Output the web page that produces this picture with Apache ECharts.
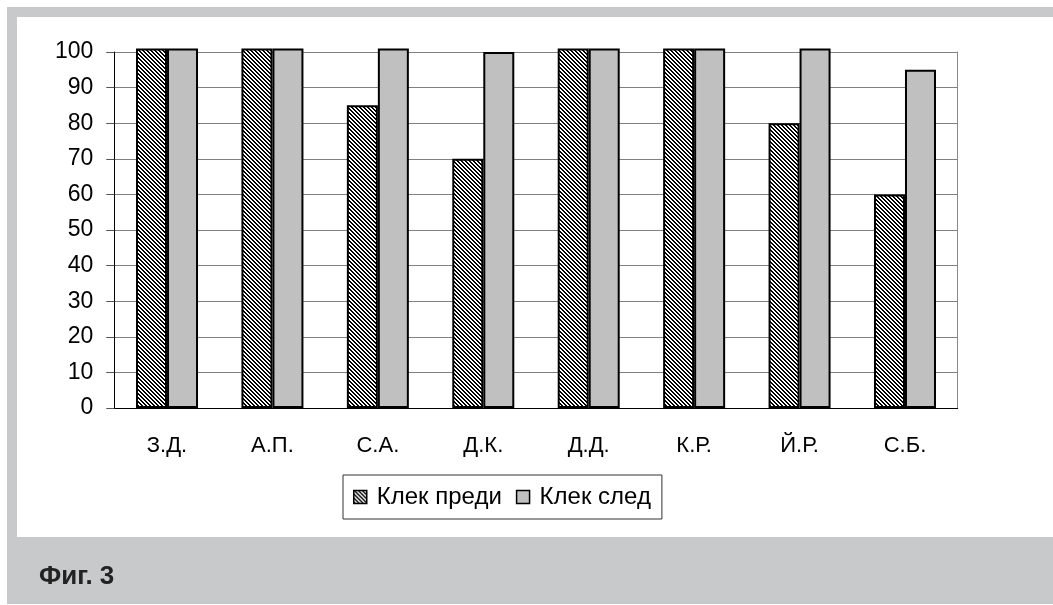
<!DOCTYPE html>
<html>
<head>
<meta charset="utf-8">
<script src="https://cdn.jsdelivr.net/npm/echarts@6/dist/echarts.min.js"></script>
<style>
  html, body { margin: 0; padding: 0; background: #fff; }
  #wrap { position: relative; width: 1053px; height: 605px; overflow: hidden; }
  #frame { position: absolute; left: 7px; top: 7px; right: 0; bottom: 1px; background: #c8c9cb; }
  #paper { position: absolute; left: 17px; top: 17px; right: 0; height: 520px; background: #fff; }
  #chart { position: absolute; left: 0; top: 0; width: 1053px; height: 605px; }
</style>
</head>
<body>
<div id="wrap">
  <div id="frame"></div>
  <div id="paper"></div>
  <div id="chart"></div>
</div>
<script>
// категории и стойности
var categories = ['З.Д.', 'А.П.', 'С.А.', 'Д.К.', 'Д.Д.', 'К.Р.', 'Й.Р.', 'С.Б.'];
var seriesNames = ['Клек преди', 'Клек след'];
// стойности над 100 са отрязани в оригинала, видимата част е ~101
var before = [101, 101, 85, 70, 101, 101, 80, 60];
var after = [101, 101, 101, 100, 101, 101, 101, 95];
var yMin = 0, yMax = 100, yStep = 10, yClip = 101;

function hatch() {
  var c = document.createElement('canvas');
  c.width = 4; c.height = 4;
  var ctx = c.getContext('2d');
  ctx.fillStyle = '#fff';
  ctx.fillRect(0, 0, 4, 4);
  ctx.fillStyle = '#000';
  for (var i = 0; i < 4; i++) {
    ctx.fillRect(i, i, 1, 1);
    ctx.fillRect((i + 1) % 4, i, 1, 1);
  }
  return c;
}

var font = '"Liberation Sans", Arial, sans-serif';
var gridBox = { left: 114.3, right: 95.3, bottom: 197 };

var myChart = echarts.init(document.getElementById('chart'));
var option = {
  animation: false,
  title: {
    text: 'Фиг. 3',
    left: 34, top: 559,
    textStyle: { fontFamily: font, fontSize: 26, fontWeight: 'bold', color: '#222' }
  },
  legend: {
    data: seriesNames,
    left: 343, top: 475,
    padding: [10, 11, 10, 10],
    itemGap: 14,
    itemWidth: 13, itemHeight: 13,
    borderColor: '#333', borderWidth: 1,
    icon: 'rect',
    itemStyle: { borderWidth: 1.5 },
    textStyle: { fontFamily: font, fontSize: 24, color: '#000', padding: [0, 0, 0, 5] }
  },
  grid: [
    { left: gridBox.left, right: gridBox.right, top: 52, bottom: gridBox.bottom },
    { left: gridBox.left, right: gridBox.right, top: 48.4, bottom: gridBox.bottom }
  ],
  xAxis: [
    {
      gridIndex: 0, type: 'category', data: categories,
      axisLine: { lineStyle: { color: '#000', width: 1 } },
      axisTick: { length: 8, lineStyle: { color: '#333' } },
      axisLabel: { fontFamily: font, fontSize: 22, color: '#000', margin: 27 }
    },
    { gridIndex: 1, type: 'category', data: categories, show: false }
  ],
  yAxis: [
    {
      gridIndex: 0, type: 'value', min: yMin, max: yMax, interval: yStep,
      axisLine: { show: true, lineStyle: { color: '#000', width: 1 } },
      axisTick: { show: true, length: 8, lineStyle: { color: '#555' } },
      axisLabel: { fontFamily: font, fontSize: 23, color: '#000', margin: 21 },
      splitLine: { show: true, lineStyle: { color: '#808080', width: 1 } }
    },
    {
      gridIndex: 0, type: 'value', position: 'right', min: yMin, max: yMax, interval: yStep,
      axisLine: { show: true, lineStyle: { color: '#888', width: 1 } },
      axisTick: { show: false }, axisLabel: { show: false }, splitLine: { show: false }
    },
    { gridIndex: 1, type: 'value', min: yMin, max: yClip, show: false, splitLine: { show: false } }
  ],
  series: [
    {
      name: seriesNames[0], type: 'bar', xAxisIndex: 1, yAxisIndex: 2,
      data: before, barWidth: 31, barGap: '0%',
      itemStyle: { color: { image: hatch(), repeat: 'repeat' }, borderColor: '#000', borderWidth: 2 }
    },
    {
      name: seriesNames[1], type: 'bar', xAxisIndex: 1, yAxisIndex: 2,
      data: after, barWidth: 31, barGap: '0%',
      itemStyle: { color: '#c0c0c0', borderColor: '#000', borderWidth: 2 }
    }
  ]
};
myChart.setOption(option);
</script>
</body>
</html>
